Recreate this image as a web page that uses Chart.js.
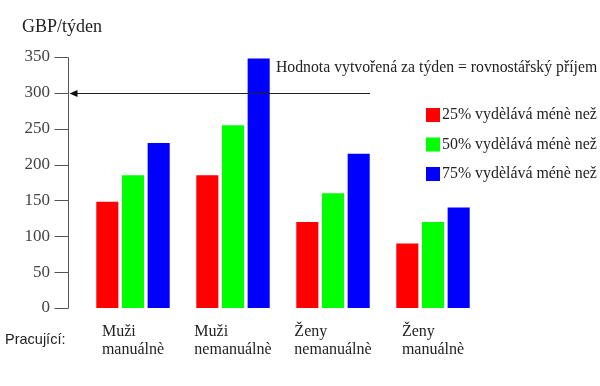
<!DOCTYPE html>
<html>
<head>
<meta charset="utf-8">
<script src="https://cdn.jsdelivr.net/npm/chart.js@4"></script>
<style>
  html, body { margin: 0; padding: 0; background: #fff; }
  #wrap { width: 600px; height: 386px; }
</style>
</head>
<body>
<div id="wrap"><canvas id="graf" width="600" height="386"></canvas></div>
<script>
"use strict";

// skupiny pracujících (dva řádky popisku)
const kategorie = [["Muži", "manuálnè"], ["Muži", "nemanuálnè"], ["Ženy", "nemanuálnè"], ["Ženy", "manuálnè"]];
const nazvyRad = ["25% vydèlává ménè než", "50% vydèlává ménè než", "75% vydèlává ménè než"];
const q25 = [148, 185, 120, 90];
const q50 = [185, 255, 160, 120];
const q75 = [230, 348, 215, 140];
const barvy = ["#ff0000", "#00ff00", "#0000ff"];
const yTicks = [0, 50, 100, 150, 200, 250, 300, 350];
const rovnostar = 300;
const popisRovnostar = "Hodnota vytvořená za týden = rovnostářský příjem";
const jednotka = "GBP/týden";
const popisOsyX = "Pracující:";

const SERIF = '"Liberation Serif", "DejaVu Serif", serif';
const SANS = '"Liberation Sans", Arial, sans-serif';

const kresba = {
  id: "kresba",
  afterDraw(chart) {
    const { ctx, chartArea, scales } = chart;
    const x = scales.x, y = scales.y;
    ctx.save();

    // osa y s čárkami
    const ax = chartArea.left - 15 + 0.5;
    ctx.strokeStyle = "#555";
    ctx.lineWidth = 1;
    ctx.beginPath();
    ctx.moveTo(ax, Math.round(y.getPixelForValue(yTicks[yTicks.length - 1])) + 0.5);
    ctx.lineTo(ax, Math.round(y.getPixelForValue(0)) + 0.5);
    yTicks.forEach(v => {
      const py = Math.round(y.getPixelForValue(v)) + 0.5;
      ctx.moveTo(ax - 14, py);
      ctx.lineTo(ax, py);
    });
    ctx.stroke();

    // šipka rovnostářského příjmu
    const pr = Math.round(y.getPixelForValue(rovnostar)) + 0.5;
    ctx.strokeStyle = "#222";
    ctx.beginPath();
    ctx.moveTo(ax + 2, pr);
    ctx.lineTo(x.getPixelForValue(2) + 37, pr);
    ctx.stroke();
    ctx.fillStyle = "#111";
    ctx.beginPath();
    ctx.moveTo(ax + 1, pr);
    ctx.lineTo(ax + 9, pr - 3.5);
    ctx.lineTo(ax + 9, pr + 3.5);
    ctx.closePath();
    ctx.fill();

    ctx.fillStyle = "#222";
    ctx.textBaseline = "middle";
    ctx.textAlign = "left";
    ctx.font = "15.75px " + SERIF;
    ctx.fillText(popisRovnostar, 276, y.getPixelForValue(rovnostar) - 25);

    // jednotka
    ctx.font = "18px " + SERIF;
    ctx.fillText(jednotka, 22, 27);

    // legenda
    ctx.font = "15.9px " + SERIF;
    chart.data.datasets.forEach((ds, i) => {
      const cy = 115 + i * 29.5;
      ctx.fillStyle = ds.backgroundColor;
      ctx.fillRect(426, cy - 7, 14, 14);
      ctx.fillStyle = "#222";
      ctx.fillText(ds.label, 442, cy);
    });

    // popisky kategorií
    ctx.font = "16px " + SERIF;
    chart.data.labels.forEach((lab, i) => {
      const cx = x.getPixelForValue(i);
      const w = Math.max(...lab.map(t => ctx.measureText(t).width));
      lab.forEach((t, j) => {
        ctx.fillText(t, cx - w / 2, 332 + j * 18);
      });
    });
    ctx.font = "14.5px " + SANS;
    ctx.fillText(popisOsyX, 5, 340);

    ctx.restore();
  }
};

const ctx = document.getElementById("graf").getContext("2d");
new Chart(ctx, {
  type: "bar",
  data: {
    labels: kategorie,
    datasets: [q25, q50, q75].map((d, i) => ({
      label: nazvyRad[i],
      data: d,
      backgroundColor: barvy[i],
      borderWidth: 0,
      categoryPercentage: 0.77,
      barPercentage: 0.86
    }))
  },
  options: {
    responsive: false,
    animation: false,
    layout: { padding: { left: 0, right: 117, top: 57, bottom: 78 } },
    plugins: { legend: { display: false }, tooltip: { enabled: false } },
    scales: {
      x: { display: false, offset: true },
      y: {
        min: 0,
        max: 350,
        afterFit: s => { s.width = 83; },
        afterBuildTicks: s => { s.ticks = yTicks.map(v => ({ value: v })); },
        grid: { display: false, drawTicks: false },
        border: { display: false },
        ticks: { padding: 33, color: "#444", font: { family: SERIF, size: 17 } }
      }
    }
  },
  plugins: [kresba]
});
</script>
</body>
</html>
